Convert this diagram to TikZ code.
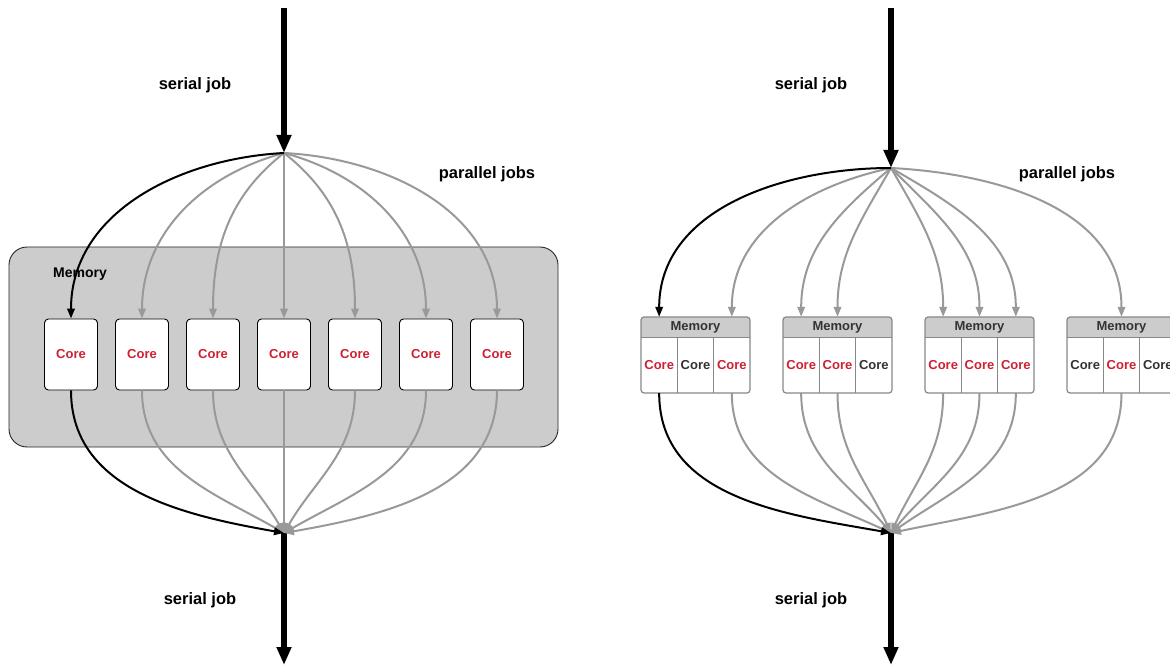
\documentclass[tikz,border=0pt]{standalone}
\usepackage{fontspec}
\setmainfont{Liberation Sans}
\usetikzlibrary{arrows.meta}
\definecolor{linegray}{HTML}{999999}
\definecolor{memgray}{HTML}{CCCCCC}
\definecolor{corered}{RGB}{204,34,51}
\definecolor{darktext}{HTML}{333333}
\definecolor{bordergray}{HTML}{888888}
\tikzset{
  bigarrow/.style={line width=6pt, -{Triangle[length=18pt,width=14pt]}},
  para/.style={line width=2pt, linegray, -{Triangle[length=10pt,width=7.5pt]}},
  serpar/.style={line width=2pt, black, -{Triangle[length=10pt,width=7.5pt]}},
  jobtext/.style={font=\fontsize{16.5}{20}\selectfont\bfseries},
  corebox/.style={draw=black, line width=0.9pt, fill=white, rounded corners=4pt, minimum width=53pt, minimum height=71pt, inner sep=0pt, text=corered, font=\fontsize{13}{15}\selectfont\bfseries},
  membox/.style={draw=black!85, line width=0.9pt, fill=memgray, rounded corners=18pt, minimum width=549pt, minimum height=200pt, inner sep=0pt},
  memlabel/.style={font=\fontsize{14}{16}\selectfont\bfseries},
  memhead/.style={minimum width=109pt, minimum height=20pt, inner sep=0pt, text=darktext, font=\fontsize{13}{15}\selectfont\bfseries},
  cell/.style={minimum width=36.33pt, minimum height=56pt, inner sep=0pt, font=\fontsize{13}{15}\selectfont\bfseries},
  blockline/.style={bordergray, line width=1.2pt}
}
\begin{document}
\begin{tikzpicture}[x=1pt,y=-1pt]
\useasboundingbox (0,0) rectangle (1170,668);
\clip (0,0) rectangle (1170,668);

% ---------------- Left diagram ----------------
\coordinate (LS) at (284,8);
\coordinate (LT) at (284,153);
\coordinate (LB) at (284,533);
\coordinate (LE) at (284,665);

\node[membox] (LM) at (283.5,347) {};
\node[memlabel] (LMt) at (80,274) {Memory};
\foreach \i in {1,...,7}{
  \node[corebox] (L\i) at ({71+71*(\i-1)},354.5) {Core};
}

\draw[bigarrow] (LS) -- (LT);
\draw[bigarrow] (LB) -- (LE);

\draw[para] (LT) to[out=195,in=90] (L2.north);
\draw[para] (LT) to[out=218,in=90] (L3.north);
\draw[para] (LT) -- (L4.north);
\draw[para] (LT) to[out=-38,in=90] (L5.north);
\draw[para] (LT) to[out=-15,in=90] (L6.north);
\draw[para] (LT) to[out=-3,in=90] (L7.north);
\draw[serpar] (LT) to[out=183,in=90] (L1.north);

\draw[para] (L2.south) to[out=-90,in=150] (LB);
\draw[para] (L3.south) to[out=-90,in=120] (LB);
\draw[para] (L4.south) -- (LB);
\draw[para] (L5.south) to[out=-90,in=60] (LB);
\draw[para] (L6.south) to[out=-90,in=30] (LB);
\draw[para] (L7.south) to[out=-90,in=10] (LB);
\draw[serpar] (L1.south) to[out=-90,in=170] (LB);

\node[jobtext] (lt1) at (195,85) {serial job};
\node[jobtext] (lt2) at (487,174) {parallel jobs};
\node[jobtext] (lt3) at (200,600) {serial job};

% ---------------- Right diagram ----------------
\coordinate (RS) at (891,8);
\coordinate (RT) at (891,168);
\coordinate (RB) at (891,533);
\coordinate (RE) at (891,665);

\foreach \b/\x/\ca/\cb/\cc in {1/641/corered/darktext/corered, 2/783/corered/corered/darktext, 3/925/corered/corered/corered, 4/1067/darktext/corered/darktext}{
  \coordinate (Bnw\b) at (\x,317);
  \coordinate (Bse\b) at (\x+109,393);
  \fill[white, rounded corners=3pt] (Bnw\b) rectangle (Bse\b);
  \begin{scope}
    \clip[rounded corners=3pt] (Bnw\b) rectangle (Bse\b);
    \fill[memgray] (\x,317) rectangle (\x+109,337);
  \end{scope}
  \node[memhead] (M\b) at (\x+54.5,327) {Memory};
  \node[cell, text=\ca] (C\b1) at (\x+18.17,365) {Core};
  \node[cell, text=\cb] (C\b2) at (\x+54.5,365) {Core};
  \node[cell, text=\cc] (C\b3) at (\x+90.83,365) {Core};
  \draw[blockline] (M\b.south west) -- (M\b.south east);
  \draw[blockline] (C\b1.north east) -- (C\b1.south east);
  \draw[blockline] (C\b2.north east) -- (C\b2.south east);
  \draw[blockline, rounded corners=3pt] (Bnw\b) rectangle (Bse\b);
}

\draw[bigarrow] (RS) -- (RT);
\draw[bigarrow] (RB) -- (RE);

\draw[para] (RT) to[out=192,in=90] (C13.north |- M1.north);
\draw[para] (RT) to[out=220,in=90] (C21.north |- M2.north);
\draw[para] (RT) to[out=240,in=90] (C22.north |- M2.north);
\draw[para] (RT) to[out=-60,in=90] (C31.north |- M3.north);
\draw[para] (RT) to[out=-45,in=90] (C32.north |- M3.north);
\draw[para] (RT) to[out=-30,in=90] (C33.north |- M3.north);
\draw[para] (RT) to[out=-3,in=90] (C42.north |- M4.north);
\draw[serpar] (RT) to[out=180,in=90] (C11.north |- M1.north);

\draw[para] (C13.south) to[out=-90,in=155] (RB);
\draw[para] (C21.south) to[out=-90,in=130] (RB);
\draw[para] (C22.south) to[out=-90,in=115] (RB);
\draw[para] (C31.south) to[out=-90,in=65] (RB);
\draw[para] (C32.south) to[out=-90,in=50] (RB);
\draw[para] (C33.south) to[out=-90,in=35] (RB);
\draw[para] (C42.south) to[out=-90,in=12] (RB);
\draw[serpar] (C11.south) to[out=-90,in=170] (RB);

\node[jobtext] (rt1) at (811,85) {serial job};
\node[jobtext] (rt2) at (1067,174) {parallel jobs};
\node[jobtext] (rt3) at (811,600) {serial job};
\end{tikzpicture}
\end{document}
